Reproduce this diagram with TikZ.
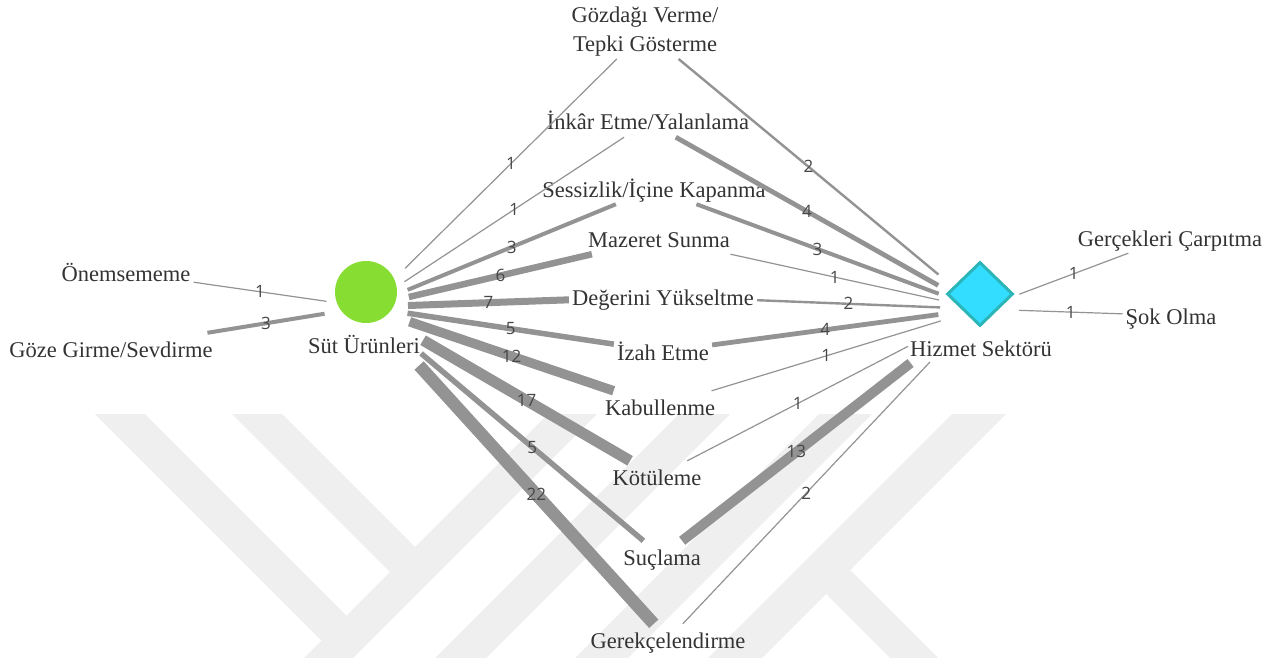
\documentclass[tikz,border=0pt]{standalone}
\usepackage{fontspec}
\setmainfont{Liberation Serif}
\newfontfamily\numfont{Open Sans}
\usetikzlibrary{calc,shapes.geometric}
\definecolor{edgecol}{HTML}{939393}
\definecolor{txtcol}{HTML}{333333}
\definecolor{numcol}{HTML}{474747}
\definecolor{wmcol}{HTML}{EFEFEF}
\definecolor{sutfill}{HTML}{88DD33}
\definecolor{hizfill}{HTML}{33DDFF}
\definecolor{hizrim}{HTML}{2BB5B8}
\begin{document}
\begin{tikzpicture}[x=1pt,y=-1pt,
  concept/.style={font=\fontsize{22.5}{29}\selectfont, text=txtcol, inner sep=3pt},
  oneline/.style={concept, text height=21pt, text depth=4pt, anchor=base},
  link/.style={draw=edgecol, line width=#1},
  wt/.style={font=\numfont\fontsize{17}{17}\selectfont, text=numcol, inner sep=0pt, midway},
]
\useasboundingbox (0,0) rectangle (1274,658);

% faint background emblem
\begin{scope}[wmcol]
  \fill (95,414) -- (145,414) -- (346.5,615.5) -- (321.5,640.5) -- cycle;
  \fill (232,414) -- (282,414) -- (415,547) -- (390,572) -- cycle;
  \fill (548,414) -- (597,414) -- (353,658) -- (304,658) -- cycle;
  \fill (679,414) -- (730,414) -- (486,658) -- (435,658) -- cycle;
  \fill (819,414) -- (872,414) -- (628,658) -- (575,658) -- cycle;
  \fill (952,414) -- (1006,414) -- (762,658) -- (708,658) -- cycle;
  \fill (850,570) -- (938,658) -- (890,658) -- (826,594) -- cycle;
\end{scope}

% concept labels
\node[concept, align=center, anchor=south] (gozdagi) at (645,59) {Gözdağı Verme/\\Tepki Gösterme};
\node[oneline] (inkar)    at (648,130) {İnkâr Etme/Yalanlama};
\node[oneline] (sessiz)   at (654,197) {Sessizlik/İçine Kapanma};
\node[oneline] (mazeret)  at (659,247) {Mazeret Sunma};
\node[oneline] (degerini) at (663,305) {Değerini Yükseltme};
\node[oneline] (izah)     at (663,360) {İzah Etme};
\node[oneline] (kabul)    at (660,415) {Kabullenme};
\node[oneline] (kotu)     at (657,485) {Kötüleme};
\node[oneline] (sucla)    at (662,565) {Suçlama};
\node[oneline] (gerek)    at (668,648) {Gerekçelendirme};
\node[oneline] (onem)     at (126,281) {Önemsememe};
\node[oneline] (goze)     at (111,357) {Göze Girme/Sevdirme};
\node[oneline] (gercek)   at (1170,246) {Gerçekleri Çarpıtma};
\node[oneline] (sok)      at (1171,324) {Şok Olma};

% the two sectors
\node[circle, fill=sutfill, minimum size=62pt, inner sep=0pt] (sutdot) at (366,292) {};
\node[oneline] (sutlbl) at (364,353) {Süt Ürünleri};
\node[diamond, fill=hizfill, draw=hizrim, line width=3pt, minimum width=66pt, minimum height=64pt, inner sep=0pt] (hizdot) at (980,294) {};
\node[oneline] (hizlbl) at (981,356) {Hizmet Sektörü};
\coordinate (sut) at (366,307);
\coordinate (hiz) at (980,309);

% links from Süt Ürünleri
\draw[link=1.2pt] ($(sut)!55pt!(gozdagi)$) -- node[wt]{1} (gozdagi);
\draw[link=1.2pt] ($(sut)!46pt!(inkar)$) -- node[wt]{1} (inkar);
\draw[link=4pt]   ($(sut)!45pt!(sessiz)$) -- node[wt]{3} (sessiz);
\draw[link=6.5pt] ($(sut)!44pt!(mazeret)$) -- node[wt]{6} (mazeret);
\draw[link=7pt]   ($(sut)!42pt!(degerini)$) -- node[wt]{7} (degerini);
\draw[link=5.5pt] ($(sut)!42pt!(izah)$) -- node[wt]{5} (izah);
\draw[link=9.5pt] ($(sut)!46pt!(kabul)$) -- node[wt]{12} (kabul);
\draw[link=11pt]  ($(sut)!66pt!(kotu)$) -- node[wt]{17} (kotu);
\draw[link=5.5pt] ($(sut)!72pt!(sucla)$) -- node[wt]{5} (sucla);
\draw[link=12.5pt] ($(sut)!79pt!(gerek)$) -- node[wt]{22} (gerek);
\draw[link=1.2pt] ($(sut)!40pt!(onem)$) -- node[wt]{1} (onem);
\draw[link=4pt]   ($(sut)!42pt!(goze)$) -- node[wt]{3} (goze);

% links from Hizmet Sektörü
\draw[link=2.4pt] ($(hiz)!54pt!(gozdagi)$) -- node[wt]{2} (gozdagi);
\draw[link=4.8pt] ($(hiz)!48pt!(inkar)$) -- node[wt]{4} (inkar);
\draw[link=4pt]   ($(hiz)!44pt!(sessiz)$) -- node[wt]{3} (sessiz);
\draw[link=1.2pt] ($(hiz)!42pt!(mazeret)$) -- node[wt]{1} (mazeret);
\draw[link=2.4pt] ($(hiz)!40pt!(degerini)$) -- node[wt]{2} (degerini);
\draw[link=4.8pt] ($(hiz)!42pt!(izah)$) -- node[wt]{4} (izah);
\draw[link=1.2pt] ($(hiz)!41pt!(kabul)$) -- node[wt]{1} (kabul);
\draw[link=1.2pt] ($(hiz)!81pt!(kotu)$) -- node[wt]{1} (kotu);
\draw[link=10pt]  ($(hiz)!88pt!(sucla)$) -- node[wt]{13} (sucla);
\draw[link=1.2pt] ($(hiz)!73pt!(gerek)$) -- node[wt]{2} (gerek);
\draw[link=1.2pt] ($(hiz)!42pt!(gercek)$) -- node[wt]{1} (gercek);
\draw[link=1.2pt] ($(hiz)!39pt!(sok)$) -- node[wt]{1} (sok);
\end{tikzpicture}
\end{document}
